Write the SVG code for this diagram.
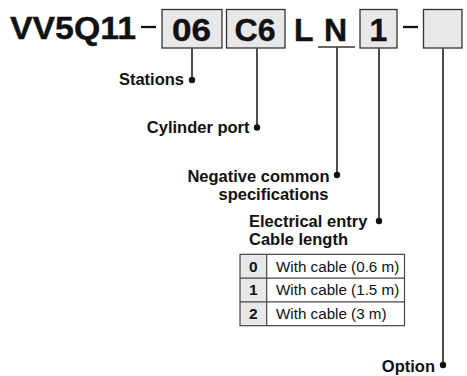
<svg xmlns="http://www.w3.org/2000/svg" width="467" height="376" viewBox="0 0 467 376">
<style>
  .big { font-family: "Liberation Sans", Arial, sans-serif; font-weight: bold; font-size: 32px; fill: #111; stroke: #111; stroke-width: 0.4; }
  .lbl { font-family: "Liberation Sans", Arial, sans-serif; font-weight: bold; font-size: 16.5px; fill: #111; }
  .cell { font-family: "Liberation Sans", Arial, sans-serif; font-size: 15.2px; fill: #111; }
  .num { font-family: "Liberation Sans", Arial, sans-serif; font-weight: bold; font-size: 15.5px; fill: #111; text-anchor: middle; }
  .box { fill: #e8e8e8; stroke: #333; stroke-width: 1.3; }
  .ln { stroke: #111; stroke-width: 1.5; fill: none; }
  .dash { stroke: #111; stroke-width: 2.3; }
  .dot { fill: #111; }
  .tbl { stroke: #444; stroke-width: 1.2; fill: none; }
</style>
<rect width="467" height="376" fill="#fff"/>

<g id="code">
  <text class="big" x="10" y="38.7" textLength="126" lengthAdjust="spacingAndGlyphs">VV5Q11</text>
  <line class="dash" x1="141" y1="27" x2="156" y2="27"/>
  <g id="stations-box">
    <rect class="box" x="162" y="9.5" width="60" height="38.5"/>
    <text class="big" x="172" y="40.8" textLength="39" lengthAdjust="spacingAndGlyphs">06</text>
  </g>
  <g id="port-box">
    <rect class="box" x="226.5" y="9.5" width="58.5" height="38.5"/>
    <text class="big" x="234.5" y="40.8" textLength="41" lengthAdjust="spacingAndGlyphs">C6</text>
  </g>
  <text class="big" x="294" y="40.8">L</text>
  <g id="neg-common">
    <text class="big" x="324" y="40.8">N</text>
    <line x1="318" y1="47" x2="355" y2="47" stroke="#333" stroke-width="1.3"/>
  </g>
  <g id="cable-box">
    <rect class="box" x="360" y="9.5" width="37" height="38.5"/>
    <text class="big" x="378.5" y="40.8" text-anchor="middle">1</text>
  </g>
  <line class="dash" x1="403" y1="27" x2="418" y2="27"/>
  <g id="option-box">
    <rect class="box" x="423.5" y="9.5" width="38.5" height="38.5"/>
  </g>
</g>

<g id="connectors">
  <line class="ln" x1="192" y1="48.5" x2="192" y2="80"/>
  <circle class="dot" cx="192" cy="80" r="3.2"/>
  <line class="ln" x1="257" y1="48.5" x2="257" y2="127.5"/>
  <circle class="dot" cx="257" cy="127.5" r="3.2"/>
  <line class="ln" x1="337" y1="47.6" x2="337" y2="175"/>
  <circle class="dot" cx="337" cy="175" r="3.2"/>
  <line class="ln" x1="379" y1="48.5" x2="379" y2="221"/>
  <circle class="dot" cx="379" cy="221" r="3.2"/>
  <line class="ln" x1="443" y1="48.5" x2="443" y2="365"/>
  <circle class="dot" cx="443" cy="365" r="3.2"/>
</g>

<g id="label-stations">
  <text class="lbl" x="184" y="85" text-anchor="end">Stations</text>
</g>
<g id="label-port">
  <text class="lbl" x="249.5" y="133" text-anchor="end">Cylinder port</text>
</g>
<g id="label-neg">
  <text class="lbl" x="329.5" y="181.5" text-anchor="end">Negative common</text>
  <text class="lbl" x="328.5" y="199.5" text-anchor="end">specifications</text>
</g>
<g id="label-elec">
  <text class="lbl" x="249" y="227.3">Electrical entry</text>
  <text class="lbl" x="249" y="245.3">Cable length</text>
</g>

<g id="cable-table">
  <rect x="240" y="254.3" width="26.7" height="71.4" fill="#e8e8e8"/>
  <rect class="tbl" x="240" y="254.3" width="164.5" height="71.4"/>
  <line class="tbl" x1="266.7" y1="254.3" x2="266.7" y2="325.7"/>
  <line class="tbl" x1="240" y1="278.1" x2="404.5" y2="278.1"/>
  <line class="tbl" x1="240" y1="301.9" x2="404.5" y2="301.9"/>
  <text class="num" x="253.4" y="271.6">0</text>
  <text class="cell" x="276" y="271.6">With cable (0.6 m)</text>
  <text class="num" x="253.4" y="295.4">1</text>
  <text class="cell" x="276" y="295.4">With cable (1.5 m)</text>
  <text class="num" x="253.4" y="319.2">2</text>
  <text class="cell" x="276" y="319.2">With cable (3 m)</text>
</g>

<g id="label-option">
  <text class="lbl" x="435" y="371.5" text-anchor="end">Option</text>
</g>
</svg>
